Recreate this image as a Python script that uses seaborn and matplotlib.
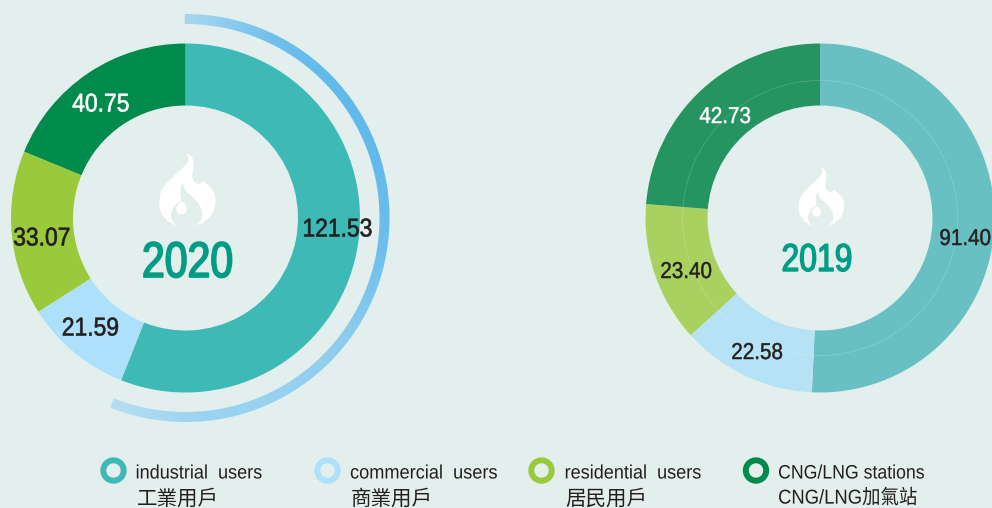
import matplotlib.patheffects as pe
import matplotlib.pyplot as plt
import numpy as np
import seaborn as sns
from matplotlib.patches import Circle, Polygon, Wedge
from matplotlib.transforms import Affine2D

# Data
values_2020 = [121.53, 21.59, 33.07, 40.75]
values_2019 = [91.40, 22.58, 23.40, 42.73]
labels_en = ['industrial  users', 'commercial  users', 'residential  users', 'CNG/LNG stations']
labels_zh = ['工業用戶', '商業用戶', '居民用戶', 'CNG/LNG加氣站']
years = ['2020', '2019']

BG = '#E3EFEC'
colors_2020 = ['#3EBAB6', '#ADE0FA', '#9ACA3C', '#008A4B']
colors_2019 = ['#68C0C2', '#B5E2F5', '#A9D15F', '#259460']
YEAR_GREEN = '#009C85'
DARK = '#231F20'

sns.set_theme(style='white', rc={'figure.facecolor': BG, 'axes.facecolor': BG})
SANS = ['Liberation Sans', 'Noto Sans CJK TC', 'DejaVu Sans']
ZH = ['Noto Sans CJK TC', 'DejaVu Sans']
plt.rcParams['font.family'] = SANS

# Flame outline, in zoomed-crop pixels
FLAME_OUTER = [(168, 42), (185, 52), (192, 70), (188, 95), (186, 115), (194, 130), (205, 136),
               (212, 134), (218, 125), (240, 142), (255, 165), (257, 190), (250, 222), (225, 247), (195, 262),
               (140, 262), (110, 245), (90, 215), (87, 190), (92, 160), (105, 138), (130, 112), (155, 90),
               (175, 68), (176, 55)]
FLAME_HOLLOW = [(158, 130), (152, 150), (151, 170), (156, 182), (135, 198), (122, 222), (124, 240), (140, 264),
                (195, 264), (213, 245), (218, 225), (208, 195), (185, 172), (165, 155)]
FLAME_DROP = [(155, 185), (168, 198), (172, 212), (165, 224), (155, 226), (145, 224), (138, 212), (142, 198)]


class Squeeze(pe.AbstractPathEffect):
    """Condense a text horizontally and thicken it, no narrow font is installed."""

    def __init__(self, factor, anchor=0.5, stroke=0.0):
        super().__init__()
        self.factor = factor
        self.anchor = anchor
        self.stroke = stroke

    def draw_path(self, renderer, gc, tpath, affine, rgbFace=None):
        ext = tpath.get_extents()
        x = ext.x0 + self.anchor * (ext.x1 - ext.x0)
        squeeze = Affine2D().translate(-x, 0).scale(self.factor, 1).translate(x, 0)
        gc0 = renderer.new_gc()
        gc0.copy_properties(gc)
        gc0.set_foreground(rgbFace)
        gc0.set_linewidth(self.stroke)
        renderer.draw_path(gc0, tpath, squeeze + affine, rgbFace)
        gc0.restore()


def smooth(pts, rounds=1):
    pts = np.array(pts, dtype=float)
    for _ in range(rounds):
        nxt = np.roll(pts, -1, axis=0)
        pts = np.column_stack([0.8 * pts + 0.2 * nxt, 0.2 * pts + 0.8 * nxt]).reshape(-1, 2)
    return pts


def flame(ax, cx, top, scale):
    for pts, fc, z in [(FLAME_OUTER, 'white', 4), (FLAME_HOLLOW, BG, 5), (FLAME_DROP, 'white', 6)]:
        xy = smooth(pts)
        xy[:, 0] = cx + (xy[:, 0] - 171) * scale / 3
        xy[:, 1] = 508 - (top + (xy[:, 1] - 42) * scale / 3)
        ax.add_patch(Polygon(xy, closed=True, fc=fc, ec='none', zorder=z))


fig = plt.figure(figsize=(9.92, 5.08), dpi=100)
ax = fig.add_axes([0, 0, 1, 1])

# Donuts
ax.pie(values_2020, colors=colors_2020, center=(185.5, 508 - 218), radius=174.5, startangle=90,
       counterclock=False, wedgeprops={'width': 62, 'linewidth': 0}, frame=True)
ax.pie(values_2019, colors=colors_2019, center=(820, 508 - 218), radius=174.5, startangle=90,
       counterclock=False, wedgeprops={'width': 62, 'linewidth': 0}, frame=True)

# Thin ring inside the 2019 donut
ax.add_patch(Circle((820, 508 - 218), 137.5, fc='none', ec='white', lw=0.5, alpha=0.22, zorder=3))

# Arc around the industrial share of 2020, blue fading to pale
sweep = 360 * values_2020[0] / sum(values_2020)
arc_colors = sns.blend_palette(['#A5D6F0', '#6FBFEC', '#5FB9E9', '#62BAEA', '#6FBFEC', '#8CCBEE',
                                '#96D1F0', '#9AD3F1', '#B5DDF1'], n_colors=120)
edges = np.linspace(90, 90 - sweep, 121)
for i, color in enumerate(arc_colors):
    ax.add_patch(Wedge((185.5, 508 - 218), 204, edges[i + 1], edges[i] + 0.2, width=10,
                       fc=color, ec='none', zorder=2))

ax.set_xlim(0, 992)
ax.set_ylim(0, 508)
ax.set_aspect('auto')
ax.axis('off')

# Flames and years
flame(ax, 187, 153, 1.0)
flame(ax, 821, 167, 0.81)
ax.text(187.5, 508 - 259, years[0], color=YEAR_GREEN, fontsize=36, ha='center',
        va='center_baseline', path_effects=[Squeeze(0.82, stroke=1.3)])
ax.text(817, 508 - 257, years[1], color=YEAR_GREEN, fontsize=28, ha='center',
        va='center_baseline', path_effects=[Squeeze(0.82, stroke=1.0)])

# Value labels
label_pos_2020 = [(337.5, 227), (90.5, 326), (42, 236), (101, 102)]
label_pos_2019 = [(965.5, 236), (757, 350), (686, 269), (725, 114)]
label_col = [DARK, DARK, DARK, 'white']
for v, (x, y), c in zip(values_2020, label_pos_2020, label_col):
    ax.text(x, 508 - y, f'{v:.2f}', color=c, fontsize=18.5, ha='center', va='center_baseline',
            path_effects=[Squeeze(0.89, stroke=0.45)])
for v, (x, y), c in zip(values_2019, label_pos_2019, label_col):
    # the right-hand label sits against the figure edge
    if x > 960:
        ax.text(991, 508 - y, f'{v:.2f}', color=c, fontsize=16.5, ha='right', va='center_baseline',
                path_effects=[Squeeze(0.9, anchor=1, stroke=0.35)])
    else:
        ax.text(x, 508 - y, f'{v:.2f}', color=c, fontsize=16.5, ha='center', va='center_baseline',
                path_effects=[Squeeze(0.9, stroke=0.35)])

# Legend
legend_x = [113.5, 327.5, 541.5, 756]
text_x = [135.5, 350, 564.5, 778]
zh_x = [137, 351, 565, 778]
en_squeeze = [0.93, 0.935, 0.93, 0.91]
for i in range(4):
    ax.add_patch(Circle((legend_x[i], 508 - 470.5), 10.2, fc='none', ec=colors_2020[i], lw=4.3))
    ax.text(text_x[i], 508 - 472, labels_en[i], color=DARK, fontsize=14, ha='left', va='center_baseline',
            path_effects=[Squeeze(en_squeeze[i], anchor=0)])
    if i < 3:
        ax.text(zh_x[i], 508 - 496, labels_zh[i], color=DARK, fontsize=14.8, ha='left',
                va='center_baseline', family=ZH)
    else:
        ax.text(zh_x[i], 508 - 496, labels_zh[i], color=DARK, fontsize=14.5, ha='left',
                va='center_baseline', family=SANS, path_effects=[Squeeze(0.915, anchor=0)])

fig.savefig('out.png', dpi=100, facecolor=BG)
